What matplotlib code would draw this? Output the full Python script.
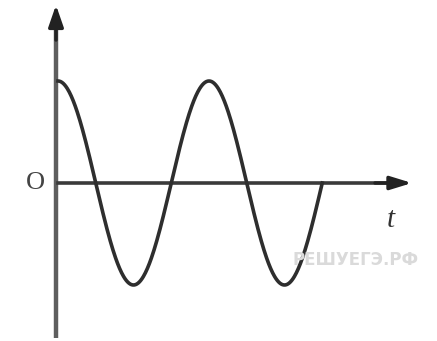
import numpy as np
from matplotlib import pyplot as plt

# values (pixel-based estimates)
period = 151.0       # px per full oscillation
amplitude = 102.0    # px from axis to peak
duration = 1.75      # number of periods drawn (ends at upward zero crossing)
axis_labels = ["O", "t"]
watermark = "РЕШУЕГЭ.РФ"

W, H = 437, 341
x0, y0 = 58, 183     # origin in pixels

fig = plt.figure(figsize=(W / 100, H / 100), dpi=100)
ax = fig.add_axes([0, 0, 1, 1])
ax.set_xlim(-x0 / period, (W - x0) / period)
ax.set_ylim(-(H - y0) / amplitude, y0 / amplitude)
ax.axis("off")

# axes
ax.plot([-2 / period, -2 / period], [-(338 - y0) / amplitude, (y0 - 30) / amplitude],
        color="#5e5e5e", lw=3.2, solid_capstyle="butt")
ax.annotate("", xy=(-2 / period, (y0 - 5) / amplitude),
            xytext=(-2 / period, (y0 - 40) / amplitude),
            arrowprops=dict(arrowstyle="-|>,head_length=1.3,head_width=0.45",
                            color="#222222", lw=2.5, shrinkA=0, shrinkB=0))
ax.plot([0, (390 - x0) / period], [0, 0], color="#3a3a3a", lw=2.6)
ax.annotate("", xy=((412 - x0) / period, 0), xytext=((375 - x0) / period, 0),
            arrowprops=dict(arrowstyle="-|>,head_length=1.3,head_width=0.4",
                            color="#222222", lw=2.5, shrinkA=0, shrinkB=0))

# curve
t = np.linspace(0, duration, 400)
ax.plot(t, np.cos(2 * np.pi * t), color="#2e2e2e", lw=2.6)

# labels
ax.text((35 - x0) / period, (y0 - 183) / amplitude, axis_labels[0], family="Liberation Serif",
        fontsize=19, color="#444444", ha="center", va="center")
ax.text((391 - x0) / period, (y0 - 220) / amplitude, axis_labels[1], family="Liberation Serif",
        style="italic", fontsize=21, color="#333333", ha="center", va="center")
ax.text((356 - x0) / period, (y0 - 260) / amplitude, watermark, family="DejaVu Sans",
        fontweight="bold", fontsize=12, color="#dadada", ha="center", va="center")

fig.savefig("out.png", dpi=100)
